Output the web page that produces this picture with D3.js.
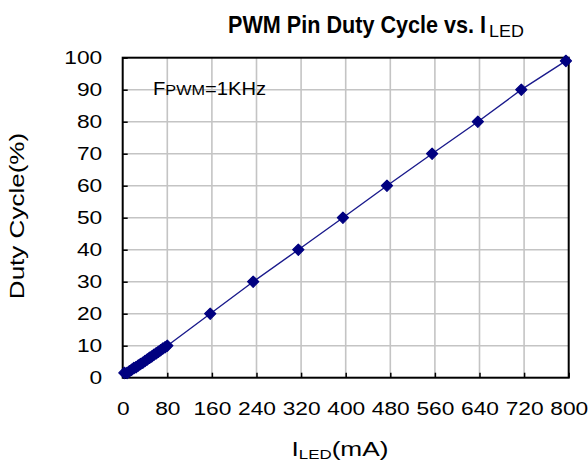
<!DOCTYPE html>
<html><head><meta charset="utf-8">
<script src="https://cdn.jsdelivr.net/npm/d3@7"></script>
<style>body{margin:0;background:#fff}svg{display:block}text{font-family:"Liberation Sans",Arial,sans-serif}</style>
</head><body>
<svg id="c" width="588" height="466"></svg>
<script>
const currentMA = [3, 8, 12, 16, 20, 24, 28, 32, 36, 40, 44, 48, 52, 56, 60, 64, 68, 72, 76, 80, 157, 234, 315, 395, 474, 555, 637, 715, 795];
const dutyPct   = [1.5, 1.5, 2, 2.5, 3, 3.3, 3.8, 4.3, 4.7, 5.2, 5.7, 6.2, 6.6, 7.2, 7.6, 8.1, 8.6, 9.1, 9.5, 10, 20, 30, 40, 50, 60, 70, 80, 90, 99];
const xTicks = [0, 80, 160, 240, 320, 400, 480, 560, 640, 720, 800];
const yTicks = [0, 10, 20, 30, 40, 50, 60, 70, 80, 90, 100];

const svg = d3.select("#c");
const L = 122.7, R = 568.7, T = 57.7, B = 377.7;
const x = d3.scaleLinear().domain([0, 800]).range([L, R]);
const y = d3.scaleLinear().domain([0, 100]).range([B, T]);

// grid
svg.append("g").selectAll("line").data(xTicks.slice(1, -1)).join("line")
  .attr("x1", d => x(d)).attr("x2", d => x(d)).attr("y1", T).attr("y2", B)
  .attr("stroke", "#c4c4c4").attr("stroke-width", 1.6);
svg.append("g").selectAll("line").data(yTicks.slice(1, -1)).join("line")
  .attr("y1", d => y(d)).attr("y2", d => y(d)).attr("x1", L).attr("x2", R)
  .attr("stroke", "#c4c4c4").attr("stroke-width", 1.6);

// frame
svg.append("rect").attr("x", L).attr("y", T).attr("width", R - L).attr("height", B - T)
  .attr("fill", "none").attr("stroke", "#000").attr("stroke-width", 2);

// axes
const TS = 1.3; // horizontal stretch of tick labels
const xAxis = d3.axisBottom(x).tickValues(xTicks).tickSizeInner(-5).tickSizeOuter(0).tickPadding(25);
const gx = svg.append("g").attr("transform", `translate(0,${B})`).call(xAxis);
gx.select(".domain").remove();
gx.selectAll("line").attr("stroke", "#000").attr("stroke-width", 1.5);
gx.selectAll("text").attr("font-size", 17.5).attr("fill", "#000").attr("transform", `scale(${TS},1)`);

const yAxis = d3.axisLeft(y).tickValues(yTicks).tickSizeInner(-5).tickSizeOuter(0).tickPadding(20.5);
const gy = svg.append("g").attr("transform", `translate(${L},0)`).call(yAxis);
gy.select(".domain").remove();
gy.selectAll("line").attr("stroke", "#000").attr("stroke-width", 1.5);
gy.selectAll("text").attr("font-size", 17.5).attr("fill", "#000")
  .attr("x", -20.5 / TS).attr("transform", `scale(${TS},1)`);

// data
const pts = currentMA.map((v, i) => [v, dutyPct[i]]);
svg.append("path").datum(pts)
  .attr("d", d3.line().x(d => x(d[0])).y(d => y(d[1])))
  .attr("fill", "none").attr("stroke", "#1a1a8c").attr("stroke-width", 1.4);
svg.append("g").selectAll("path").data(pts).join("path")
  .attr("d", d3.symbol(d3.symbolDiamond2, 80)())
  .attr("transform", d => `translate(${x(d[0])},${y(d[1])})`)
  .attr("fill", "#000080").attr("stroke", "#000080").attr("stroke-width", 1.2).attr("stroke-linejoin", "round");

// title
const tMain = svg.append("text").attr("transform", "translate(228,33) scale(0.92,1)")
  .attr("font-size", 23.5).attr("font-weight", "bold").attr("fill", "#000")
  .text("PWM Pin Duty Cycle vs. I");
const tLen = tMain.node().getComputedTextLength() * 0.92;
svg.append("text").attr("transform", `translate(${228 + tLen + 3},36.5) scale(1.12,1)`)
  .attr("font-size", 16).attr("fill", "#000").text("LED");

// annotation
const a = svg.append("text").attr("transform", "translate(153,95) scale(1.12,1)")
  .attr("font-size", 18).attr("fill", "#000");
a.append("tspan").text("F");
a.append("tspan").attr("font-size", 14.5).text("PWM");
a.append("tspan").text("=1KHz");

// x label
const xl = svg.append("text").attr("transform", "translate(340,456) scale(1.25,1)").attr("text-anchor", "middle")
  .attr("font-size", 21).attr("fill", "#000");
xl.append("tspan").text("I");
xl.append("tspan").attr("dy", 3).attr("font-size", 13.5).text("LED");
xl.append("tspan").attr("dy", -3).text("(mA)");

// y label
svg.append("text").attr("transform", `translate(24,216) rotate(-90) scale(1.24,1)`)
  .attr("text-anchor", "middle").attr("font-size", 21).attr("fill", "#000").text("Duty Cycle(%)");
</script>
</body></html>
